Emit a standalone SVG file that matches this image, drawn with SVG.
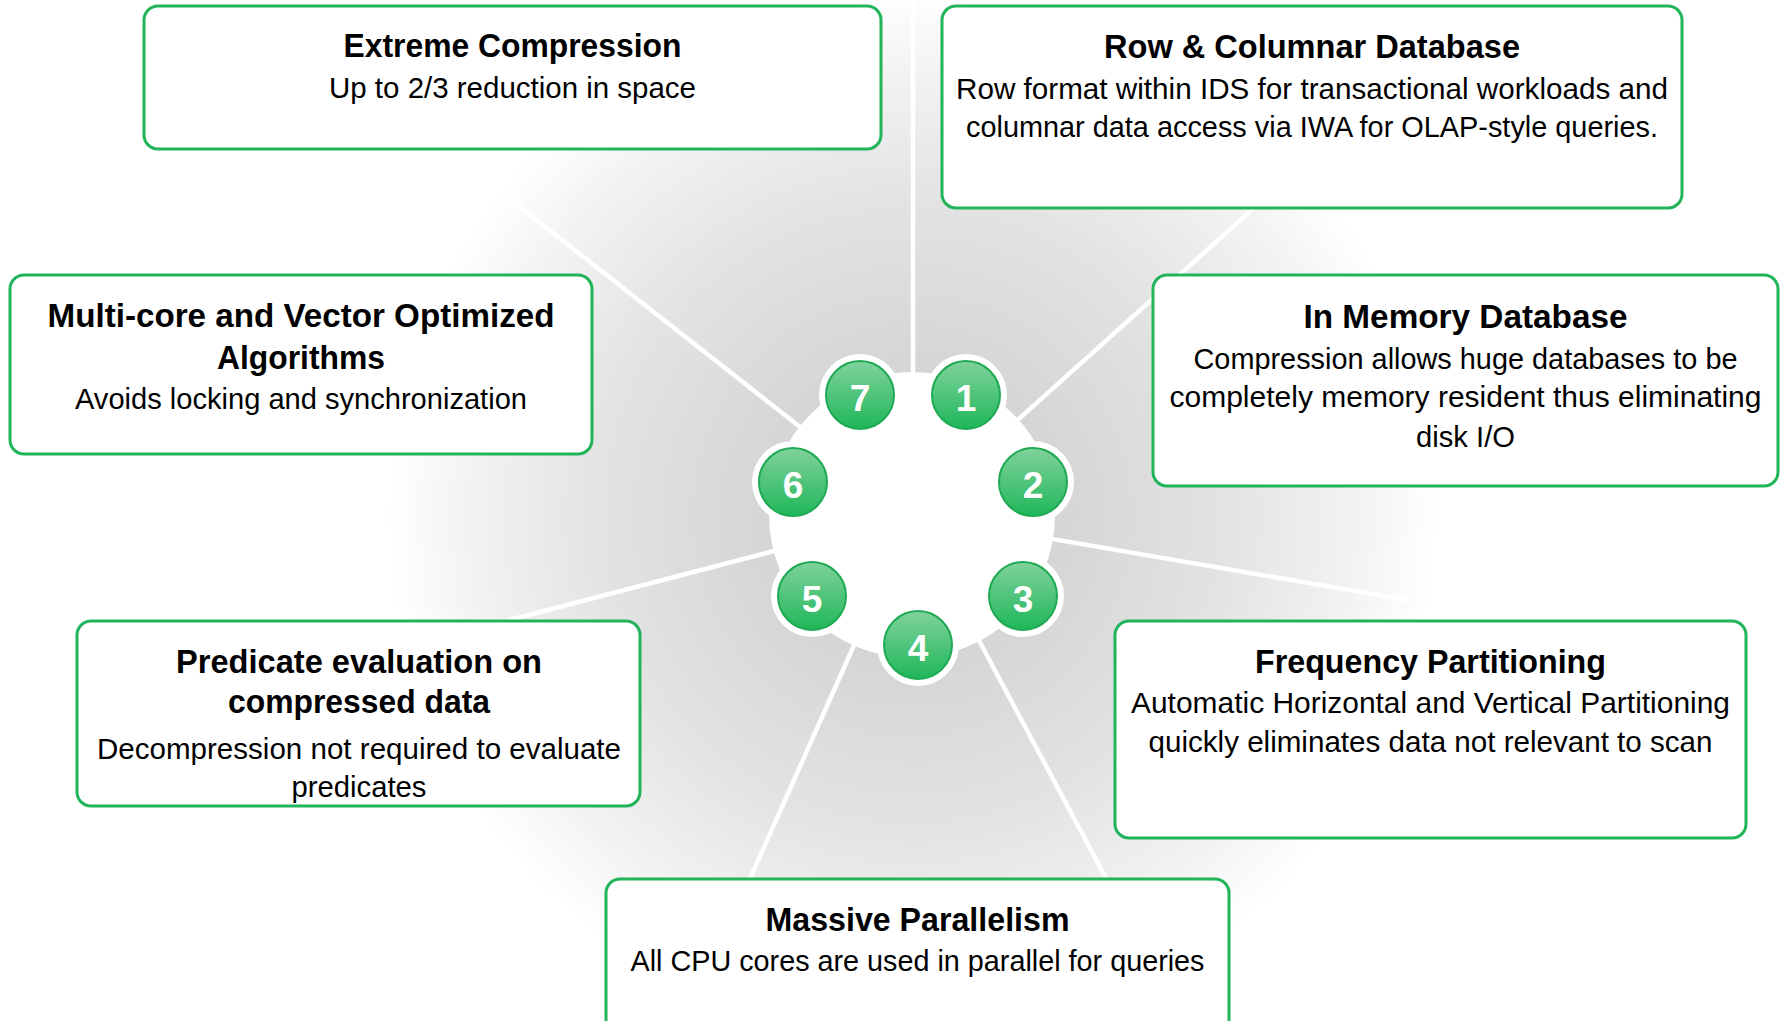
<svg xmlns="http://www.w3.org/2000/svg" width="1781" height="1021" viewBox="0 0 1781 1021">
<style>
.box{fill:#ffffff;stroke:#22b45a;stroke-width:3}
.t{font-family:"Liberation Sans",Arial,sans-serif;font-weight:bold;font-size:33px;fill:#000;text-anchor:middle}
.b{font-family:"Liberation Sans",Arial,sans-serif;font-size:29px;fill:#000;text-anchor:middle}
.ring{fill:#ffffff}
.dot{fill:url(#gg);stroke:#1eaa52;stroke-width:2}
.num{font-family:"Liberation Sans",Arial,sans-serif;font-weight:bold;font-size:37px;fill:#ffffff;text-anchor:middle}
.ln{stroke:#ffffff;stroke-width:4.5;fill:none}
</style>
<defs>
<radialGradient id="bg" cx="912" cy="515" r="525" gradientUnits="userSpaceOnUse">
<stop offset="0" stop-color="#cfcfcf"/>
<stop offset="0.3" stop-color="#d6d6d6"/>
<stop offset="0.6" stop-color="#e3e3e3"/>
<stop offset="0.85" stop-color="#f3f3f3"/>
<stop offset="1" stop-color="#ffffff"/>
</radialGradient>
<linearGradient id="gg" x1="0" y1="0" x2="0" y2="1">
<stop offset="0" stop-color="#80d29c"/>
<stop offset="1" stop-color="#1fb75a"/>
</linearGradient>
</defs>
<rect x="0" y="0" width="1781" height="1021" fill="#ffffff"/>
<circle cx="912" cy="515" r="525" fill="url(#bg)"/>
<g id="connectors">
<line class="ln" x1="913" y1="515" x2="913" y2="0"/>
<line class="ln" x1="912" y1="515" x2="1295" y2="171"/>
<line class="ln" x1="912" y1="515" x2="1408" y2="600"/>
<line class="ln" x1="912" y1="515" x2="1115" y2="895"/>
<line class="ln" x1="912" y1="515" x2="745" y2="890"/>
<line class="ln" x1="912" y1="515" x2="490" y2="625"/>
<line class="ln" x1="912" y1="515" x2="515" y2="203"/>
</g>
<g id="hub">
<circle cx="912" cy="515" r="143" fill="#ffffff"/>
</g>
<g id="n1"><circle class="ring" cx="966" cy="395" r="41"/><circle class="dot" cx="966" cy="395" r="34"/><text class="num" x="966" y="411">1</text></g>
<g id="n2"><circle class="ring" cx="1033" cy="482" r="41"/><circle class="dot" cx="1033" cy="482" r="34"/><text class="num" x="1033" y="498">2</text></g>
<g id="n3"><circle class="ring" cx="1023" cy="596" r="41"/><circle class="dot" cx="1023" cy="596" r="34"/><text class="num" x="1023" y="612">3</text></g>
<g id="n4"><circle class="ring" cx="918" cy="645" r="41"/><circle class="dot" cx="918" cy="645" r="34"/><text class="num" x="918" y="661">4</text></g>
<g id="n5"><circle class="ring" cx="812" cy="596" r="41"/><circle class="dot" cx="812" cy="596" r="34"/><text class="num" x="812" y="612">5</text></g>
<g id="n6"><circle class="ring" cx="793" cy="482" r="41"/><circle class="dot" cx="793" cy="482" r="34"/><text class="num" x="793" y="498">6</text></g>
<g id="n7"><circle class="ring" cx="860" cy="395" r="41"/><circle class="dot" cx="860" cy="395" r="34"/><text class="num" x="860" y="411">7</text></g>
<g id="extreme-compression">
<rect class="box" x="144" y="6" width="737" height="143" rx="14"/>
<text class="t" x="512.5" y="57" textLength="338" lengthAdjust="spacingAndGlyphs">Extreme Compression</text>
<text class="b" x="512.5" y="98" textLength="367" lengthAdjust="spacingAndGlyphs">Up to 2/3 reduction in space</text>
</g>
<g id="row-columnar">
<rect class="box" x="942" y="6" width="740" height="202" rx="14"/>
<text class="t" x="1312" y="58" textLength="416" lengthAdjust="spacingAndGlyphs">Row &amp; Columnar Database</text>
<text class="b" x="1312" y="99" textLength="712" lengthAdjust="spacingAndGlyphs">Row format within IDS for transactional workloads and</text>
<text class="b" x="1312" y="137" textLength="692" lengthAdjust="spacingAndGlyphs">columnar data access via IWA for OLAP-style queries.</text>
</g>
<g id="multi-core">
<rect class="box" x="10" y="275" width="582" height="179" rx="14"/>
<text class="t" x="301" y="327" textLength="507" lengthAdjust="spacingAndGlyphs">Multi-core and Vector Optimized</text>
<text class="t" x="301" y="369" textLength="168" lengthAdjust="spacingAndGlyphs">Algorithms</text>
<text class="b" x="301" y="409" textLength="452" lengthAdjust="spacingAndGlyphs">Avoids locking and synchronization</text>
</g>
<g id="in-memory">
<rect class="box" x="1153" y="275" width="625" height="211" rx="14"/>
<text class="t" x="1465.5" y="328" textLength="324" lengthAdjust="spacingAndGlyphs">In Memory Database</text>
<text class="b" x="1465.5" y="369" textLength="544" lengthAdjust="spacingAndGlyphs">Compression allows huge databases to be</text>
<text class="b" x="1465.5" y="407" textLength="592" lengthAdjust="spacingAndGlyphs">completely memory resident thus eliminating</text>
<text class="b" x="1465.5" y="447" textLength="99" lengthAdjust="spacingAndGlyphs">disk I/O</text>
</g>
<g id="predicate">
<rect class="box" x="77" y="621" width="563" height="185" rx="14"/>
<text class="t" x="359" y="673" textLength="366" lengthAdjust="spacingAndGlyphs">Predicate evaluation on</text>
<text class="t" x="359" y="713" textLength="262" lengthAdjust="spacingAndGlyphs">compressed data</text>
<text class="b" x="359" y="759" textLength="524" lengthAdjust="spacingAndGlyphs">Decompression not required to evaluate</text>
<text class="b" x="359" y="797" textLength="135" lengthAdjust="spacingAndGlyphs">predicates</text>
</g>
<g id="frequency">
<rect class="box" x="1115" y="621" width="631" height="217" rx="14"/>
<text class="t" x="1430.5" y="673" textLength="351" lengthAdjust="spacingAndGlyphs">Frequency Partitioning</text>
<text class="b" x="1430.5" y="713" textLength="599" lengthAdjust="spacingAndGlyphs">Automatic Horizontal and Vertical Partitioning</text>
<text class="b" x="1430.5" y="752" textLength="564" lengthAdjust="spacingAndGlyphs">quickly eliminates data not relevant to scan</text>
</g>
<g id="massive-parallelism">
<rect class="box" x="606" y="879" width="623" height="170" rx="14"/>
<text class="t" x="917.5" y="931" textLength="304" lengthAdjust="spacingAndGlyphs">Massive Parallelism</text>
<text class="b" x="917.5" y="971" textLength="574" lengthAdjust="spacingAndGlyphs">All CPU cores are used in parallel for queries</text>
</g>
</svg>
